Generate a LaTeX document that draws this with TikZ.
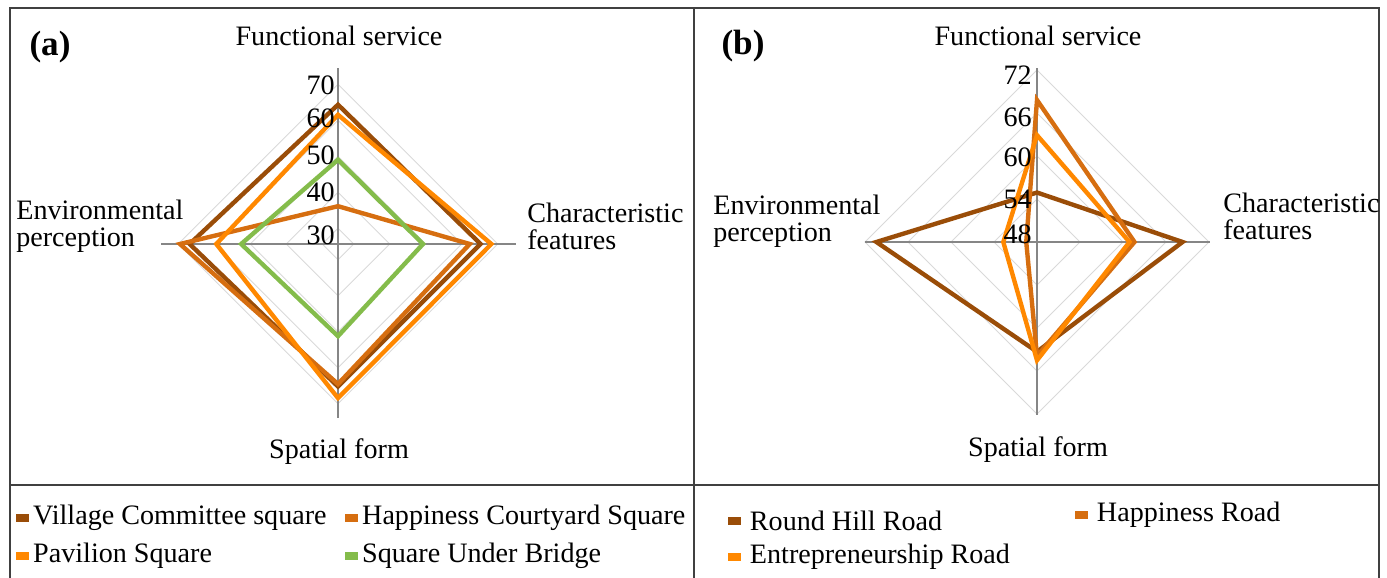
\documentclass[tikz,border=0pt]{standalone}
\usepackage{fontspec}
\setmainfont{Liberation Serif}
\usetikzlibrary{positioning}
\definecolor{darkbrown}{HTML}{9A4D08}
\definecolor{midorange}{HTML}{D66E10}
\definecolor{brightorange}{HTML}{FF8800}
\definecolor{leafgreen}{HTML}{84BC4B}
\definecolor{ringgray}{HTML}{D9D9D9}
\definecolor{axisgray}{HTML}{868686}
\tikzstyle{axislabel} = [inner sep = 0, align = left, font = \fontsize{16}{15.4}\selectfont]
\tikzstyle{ticklabel} = [inner sep = 0, anchor = east, font = \fontsize{16}{16}\selectfont]
\tikzstyle{panellabel} = [inner sep = 0, font = \fontsize{20}{20}\selectfont\bfseries]
\tikzstyle{ring} = [draw = ringgray, line width = 0.5pt]
\tikzstyle{axisline} = [draw = axisgray, line width = 0.8pt]
\tikzstyle{series} = [line width = 2.5pt]
\tikzstyle{legendkey} = [rectangle, inner sep = 0, minimum width = 0.26cm, minimum height = 0.16cm]
\tikzstyle{legendtext} = [inner sep = 0, font = \fontsize{16}{16}\selectfont]
\tikzstyle{frameline} = [draw = black!75, line width = 0.8pt]

% min value, px per unit, then top / right / bottom / left values
\newcommand{\radarpath}[6]{(0,{-(#3-#1)*#2}) -- ({(#4-#1)*#2},0) -- (0,{(#5-#1)*#2}) -- ({-(#6-#1)*#2},0) -- cycle}

\begin{document}
\begin{tikzpicture}[x = 0.02cm, y = -0.02cm]
\useasboundingbox (0,0) rectangle (1387,578);
\draw [frameline] (10,578) -- (10,8) -- (1379,8) -- (1379,578);
\draw [frameline] (694,8) -- (694,578);
\draw [frameline] (10,485) -- (1379,485);

\coordinate (ca) at (338,244);
\coordinate (cb) at (1037,242);

% panel (a)
\begin{scope}[shift = {(ca)}]
\foreach \v in {30,40,...,70}
  \draw [ring] \radarpath{25.6}{3.6}{\v}{\v}{\v}{\v};
\draw [axisline] (0,-176) -- (0,174);
\draw [axisline] (-177,0) -- (178,0);
\draw [series, darkbrown] \radarpath{25.6}{3.6}{64.3}{65.2}{65.2}{66.8};
\draw [series, midorange] \radarpath{25.6}{3.6}{36.1}{62.2}{64.5}{69.5};
\draw [series, brightorange] \radarpath{25.6}{3.6}{61.5}{68.2}{68.4}{59.4};
\draw [series, leafgreen] \radarpath{25.6}{3.6}{49.0}{49.2}{51.2}{52.5};
\foreach \t/\y in {70/-159, 60/-126, 50/-89, 40/-52, 30/-9}
  \node (tickA\t) [ticklabel] at (-3,\y) {\t};
\end{scope}

% panel (b)
\begin{scope}[shift = {(cb)}]
\foreach \v in {54,60,66,72}
  \draw [ring] \radarpath{48}{7.17}{\v}{\v}{\v}{\v};
\draw [axisline] (0,-174) -- (0,173);
\draw [axisline] (-172,0) -- (173,0);
\draw [series, darkbrown] \radarpath{48}{7.17}{54.9}{68.3}{63.3}{70.4};
\draw [series, midorange] \radarpath{48}{7.17}{67.8}{61.6}{63.9}{49.5};
\draw [series, brightorange] \radarpath{48}{7.17}{62.9}{60.9}{64.5}{52.7};
\foreach \t/\y in {72/-167, 66/-125, 60/-85, 54/-43, 48/-8}
  \node (tickB\t) [ticklabel] at (-5,\y) {\t};
\end{scope}

\node (tagA) [panellabel] at (50,47) {(a)};
\node (fsA) [axislabel] at (339,36) {Functional service};
\node (cfA) [axislabel, anchor = west] at (527,226.5) {Characteristic\\features};
\node (epA) [axislabel, anchor = west] at (16,226.5) {Environmental\\perception};
\node (sfA) [axislabel] at (339,452) {Spatial form};

\node (tagB) [panellabel] at (743,46) {(b)};
\node (fsB) [axislabel] at (1038,36) {Functional service};
\node (cfB) [axislabel, anchor = west] at (1223,216.5) {Characteristic\\features};
\node (epB) [axislabel, anchor = west] at (713,221.5) {Environmental\\perception};
\node (sfB) [axislabel] at (1038,450) {Spatial form};

% legends
\node (keyVillage) [legendkey, fill = darkbrown] at (22.5,518) {};
\node (txtVillage) [legendtext, right = 2pt of keyVillage] {Village Committee square};
\node (keyCourt) [legendkey, fill = midorange] at (351.5,518) {};
\node (txtCourt) [legendtext, right = 2pt of keyCourt] {Happiness Courtyard Square};
\node (keyPavilion) [legendkey, fill = brightorange] at (22.5,556) {};
\node (txtPavilion) [legendtext, right = 2pt of keyPavilion] {Pavilion Square};
\node (keyBridge) [legendkey, fill = leafgreen] at (351.5,556) {};
\node (txtBridge) [legendtext, right = 2pt of keyBridge] {Square Under Bridge};

\node (keyHill) [legendkey, fill = darkbrown] at (734,521) {};
\node (txtHill) [legendtext, right = 5pt of keyHill] {Round Hill Road};
\node (keyHappy) [legendkey, fill = midorange] at (1081,515) {};
\node (txtHappy) [legendtext, right = 5pt of keyHappy] {Happiness Road};
\node (keyVenture) [legendkey, fill = brightorange] at (734,557) {};
\node (txtVenture) [legendtext, right = 5pt of keyVenture] {Entrepreneurship Road};
\end{tikzpicture}
\end{document}
